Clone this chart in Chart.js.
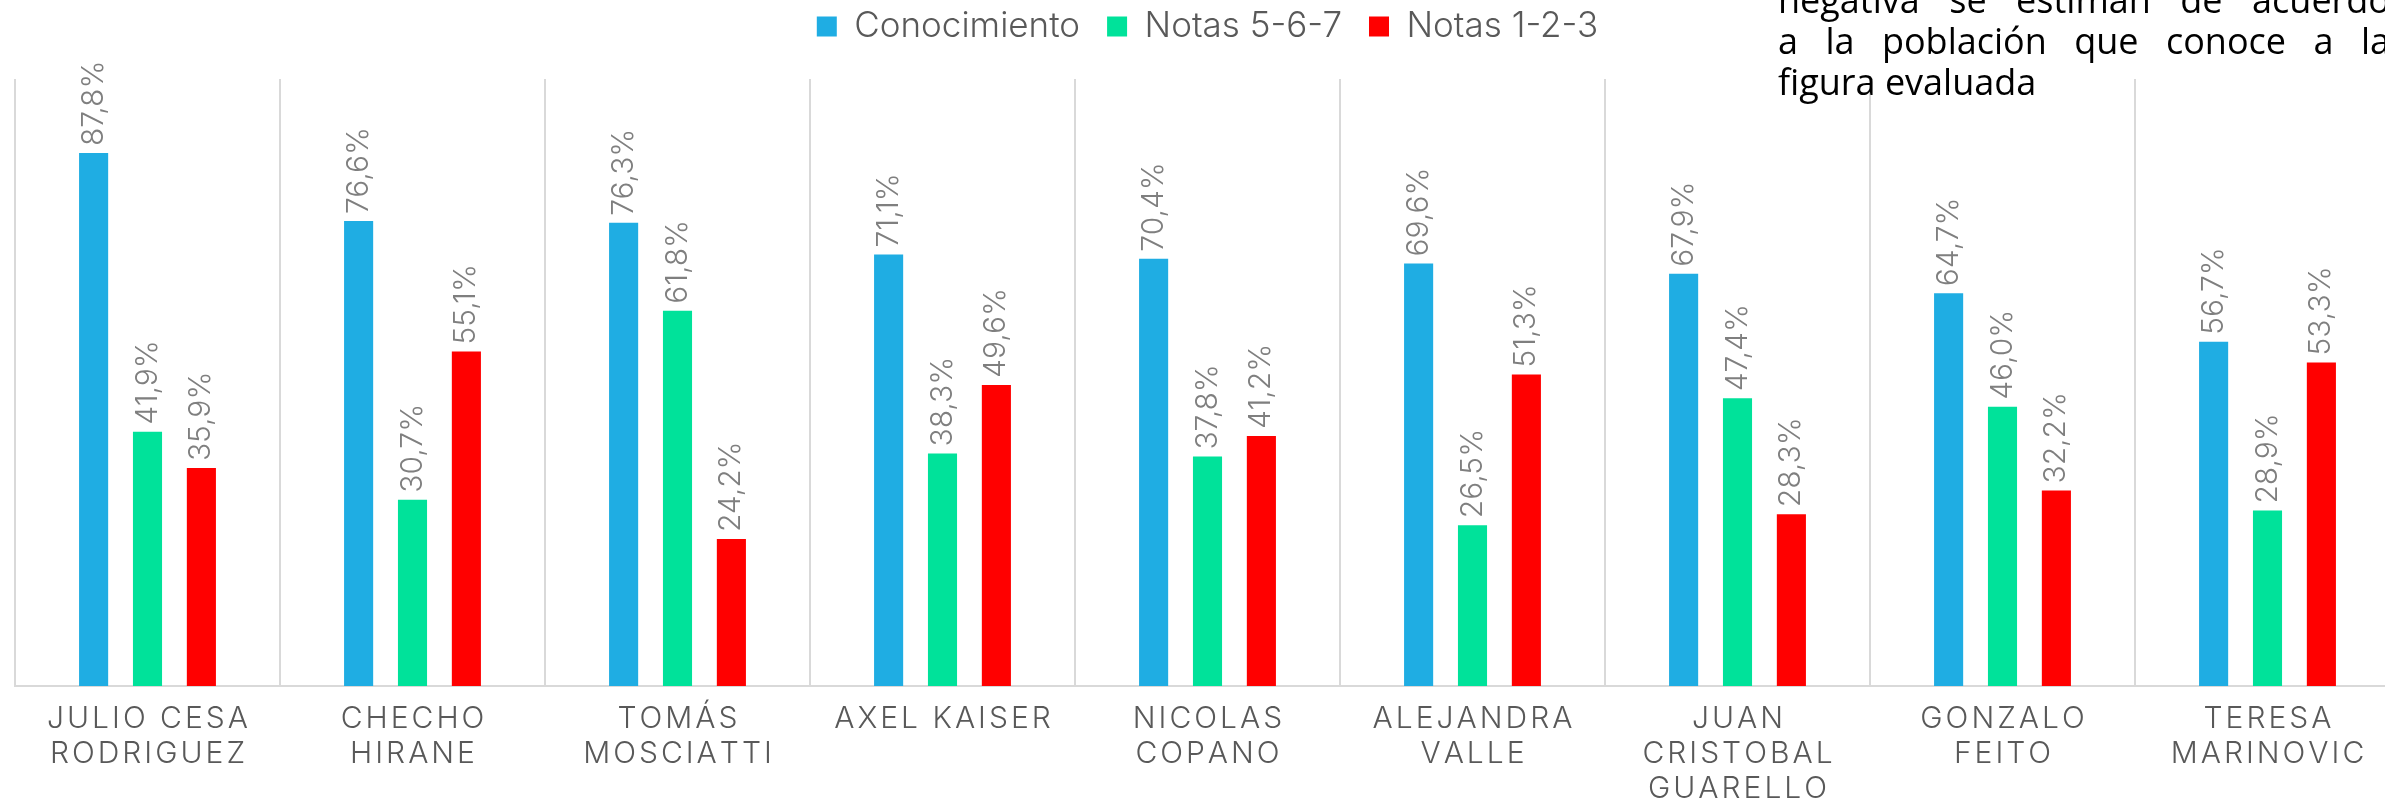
<!DOCTYPE html>
<html>
<head>
<meta charset="utf-8">
<script src="https://cdn.jsdelivr.net/npm/chart.js@4"></script>
<style>
  html, body { margin: 0; padding: 0; background: #fff; overflow: hidden; }
  #wrap { position: relative; width: 2400px; height: 802px; }
  #note {
    position: absolute; left: 1778px; top: -21px; width: 612px;
    font-family: "Open Sans", sans-serif; font-size: 36px; line-height: 41px;
    color: #000;
  }
  #note div { text-align: justify; text-align-last: justify; white-space: nowrap; }
  #note div.last { text-align-last: left; }
</style>
</head>
<body>
<div id="wrap">
  <canvas id="evalChart" width="2400" height="802"></canvas>
  <div id="note">
    <div>negativa se estiman de acuerdo</div>
    <div>a la población que conoce a la</div>
    <div class="last">figura evaluada</div>
  </div>
</div>
<script>
const categories = [
  ["JULIO CESA", "RODRIGUEZ"],
  ["CHECHO", "HIRANE"],
  ["TOMÁS", "MOSCIATTI"],
  ["AXEL KAISER"],
  ["NICOLAS", "COPANO"],
  ["ALEJANDRA", "VALLE"],
  ["JUAN", "CRISTOBAL", "GUARELLO"],
  ["GONZALO", "FEITO"],
  ["TERESA", "MARINOVIC"],
];
const conocimiento = [87.8, 76.6, 76.3, 71.1, 70.4, 69.6, 67.9, 64.7, 56.7];
const notas567 = [41.9, 30.7, 61.8, 38.3, 37.8, 26.5, 47.4, 46.0, 28.9];
const notas123 = [35.9, 55.1, 24.2, 49.6, 41.2, 51.3, 28.3, 32.2, 53.3];

// texto con espaciado entre letras, centrado en x
function spacedText(ctx, text, x, y, spacing) {
  const chars = Array.from(text);
  const widths = chars.map((c) => ctx.measureText(c).width);
  const total = widths.reduce((a, b) => a + b, 0) + spacing * (chars.length - 1);
  let cx = x - total / 2;
  chars.forEach((c, k) => {
    ctx.fillText(c, cx, y);
    cx += widths[k] + spacing;
  });
}

const barLabels = {
  id: "barLabels",
  afterDatasetsDraw(chart) {
    const ctx = chart.ctx;
    ctx.save();
    ctx.font = "300 30px Inter";
    ctx.fillStyle = "#7f7f7f";
    ctx.textAlign = "left";
    ctx.textBaseline = "middle";
    chart.data.datasets.forEach((ds, i) => {
      chart.getDatasetMeta(i).data.forEach((bar, j) => {
        ctx.save();
        ctx.translate(bar.x, bar.y - 7);
        ctx.rotate(-Math.PI / 2);
        ctx.fillText(ds.data[j].toFixed(1).replace(".", ",") + "%", 0, 0);
        ctx.restore();
      });
    });
    ctx.restore();
  },
  afterDraw(chart) {
    // etiquetas del eje x
    const ctx = chart.ctx;
    const xScale = chart.scales.x;
    ctx.save();
    ctx.font = "300 30px Inter";
    ctx.fillStyle = "#595959";
    ctx.textAlign = "left";
    ctx.textBaseline = "middle";
    chart.data.labels.forEach((lines, i) => {
      const x = xScale.getPixelForTick(i);
      lines.forEach((line, k) => {
        spacedText(ctx, line, x, chart.chartArea.bottom + 33 + k * 35, 3);
      });
    });
    ctx.restore();
  },
};

const ctx = document.getElementById("evalChart").getContext("2d");
const evalChart = new Chart(ctx, {
  type: "bar",
  data: {
    labels: categories,
    datasets: [
      { label: "Conocimiento", data: conocimiento, backgroundColor: "#1FADE3" },
      { label: "Notas 5-6-7", data: notas567, backgroundColor: "#00E29A" },
      { label: "Notas 1-2-3", data: notas123, backgroundColor: "#FF0000" },
    ],
  },
  options: {
    responsive: false,
    animation: false,
    categoryPercentage: 0.61,
    barPercentage: 0.54,
    layout: { padding: { left: 15, right: 0, top: -18, bottom: 116 } },
    plugins: {
      legend: {
        position: "top",
        labels: {
          boxWidth: 20,
          boxHeight: 20,
          padding: 27,
          color: "#595959",
          font: { family: "Inter", size: 35, weight: "300" },
        },
      },
      title: {
        display: true,
        text: "",
        weight: 500,
        padding: 0,
        font: { size: 25, lineHeight: 1 },
      },
      tooltip: { enabled: false },
    },
    scales: {
      x: {
        grid: { offset: true, color: "#d9d9d9", lineWidth: 2, drawTicks: false },
        border: { color: "#d9d9d9", width: 2 },
        ticks: { display: false },
      },
      y: {
        display: false,
        min: 0,
        max: 100,
      },
    },
  },
  plugins: [barLabels],
});
</script>
</body>
</html>
